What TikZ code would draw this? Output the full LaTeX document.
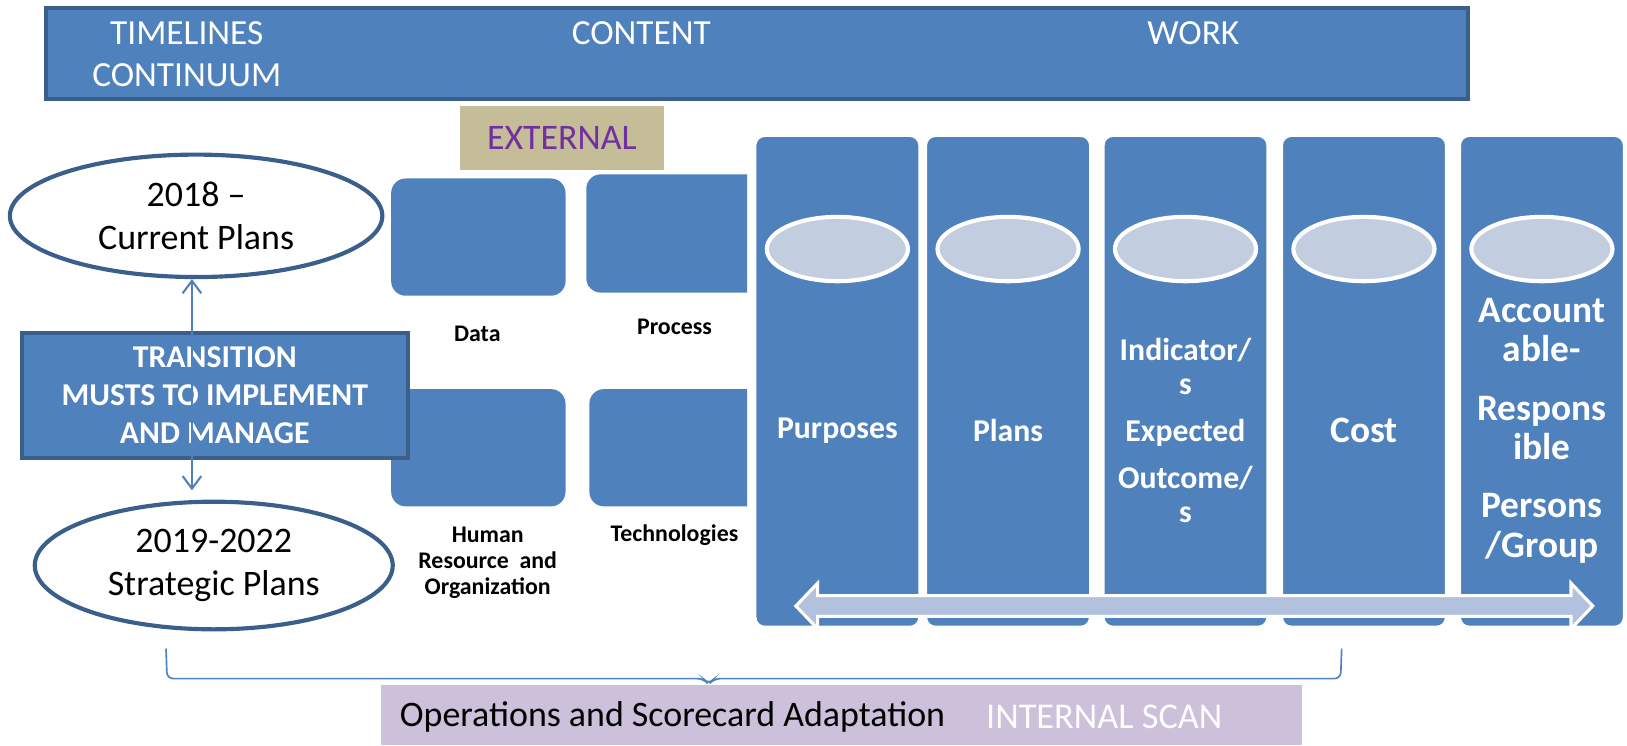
\documentclass[tikz,border=0pt]{standalone}
\usepackage{fontspec}
\setmainfont{Carlito}
\usetikzlibrary{arrows.meta,shapes.geometric,calc}

\definecolor{boxblue}{HTML}{4F81BD}
\definecolor{edgeblue}{HTML}{3A5F8B}
\definecolor{capfill}{HTML}{C3CDE0}
\definecolor{flowfill}{HTML}{B2C1DD}
\definecolor{tanfill}{HTML}{C4BD97}
\definecolor{scanfill}{HTML}{CCC0DA}
\definecolor{extpurple}{HTML}{7030A0}

\tikzset{
  bannerbox/.style={draw=edgeblue, line width=2pt, fill=boxblue, inner sep=0pt},
  bannertext/.style={text=white, font=\fontsize{17}{20.5}\selectfont, align=center, inner sep=0pt},
  planell/.style={ellipse, draw=edgeblue, line width=2pt, fill=white, align=center,
    font=\fontsize{17.3}{20.7}\selectfont, inner sep=0pt},
  musts/.style={draw=edgeblue, line width=2pt, fill=boxblue, text=white, align=center,
    font=\bfseries\fontsize{15.3}{18.3}\selectfont, inner sep=0pt},
  tile/.style={fill=boxblue, rounded corners=7pt, inner sep=0pt},
  tilelabel/.style={font=\bfseries\fontsize{11.5}{12.5}\selectfont, align=center, inner sep=0pt},
  column/.style={draw=white, line width=2pt, fill=boxblue, rounded corners=5pt,
    minimum width=80pt, minimum height=237.5pt, inner sep=0pt},
  coltext/.style={text=white, align=center, font=\bfseries\fontsize{15.3}{16.5}\selectfont, inner sep=0pt},
  bigtext/.style={coltext, font=\bfseries\fontsize{18}{19}\selectfont},
  colcap/.style={ellipse, draw=white, line width=2pt, fill=capfill,
    minimum width=68pt, minimum height=31pt, inner sep=0pt},
  flowarrow/.style={draw=white, line width=1.5pt, fill=flowfill, line join=miter},
  linkarrow/.style={draw=boxblue, line width=1pt, {Straight Barb[length=6pt,width=9pt]}-{Straight Barb[length=6pt,width=9pt]}},
  bracket/.style={draw=boxblue, line width=0.8pt, rounded corners=3pt}
}

\begin{document}
\begin{tikzpicture}[x=0.5pt,y=-0.5pt]
  \useasboundingbox (0,0) rectangle (1568,718);

  \node[bannerbox, minimum width=685.5pt, minimum height=43.5pt] (banner) at (729.5,51.5) {};
  \node[bannertext] (timeline) at (180,52) {TIMELINES\\CONTINUUM};
  \node[bannertext] (content) at (618,32) {CONTENT};
  \node[bannertext] (work) at (1150,32) {WORK};

  \node[fill=tanfill, text=extpurple, minimum width=98.5pt, minimum height=31pt,
    font=\fontsize{17.3}{20}\selectfont] (ext) at (541.5,133) {EXTERNAL};

  \node[tile, minimum width=84pt, minimum height=56.5pt] (data) at (461,228.5) {};
  \node[tile, minimum width=84pt, minimum height=56.5pt] (hr) at (461,431.5) {};
  \begin{scope}
    \clip (550,150) rectangle (720,500);
    \node[tile, minimum width=95pt, minimum height=57pt] (process) at (660,225) {};
    \node[tile, minimum width=95pt, minimum height=56.5pt] (tech) at (663,431.5) {};
  \end{scope}
  \node[tilelabel] (datalabel) at (460,322) {Data};
  \node[tilelabel] (processlabel) at (650,315) {Process};
  \node[tilelabel] (hrlabel) at (470,542) {Human\\Resource~ and\\Organization};
  \node[tilelabel] (techlabel) at (650,516) {Technologies};

  \node[column] (purposes) at (807,367.5) {};
  \node[column] (plans) at (971.5,367.5) {};
  \node[column] (indicator) at (1142.5,367.5) {};
  \node[column] (cost) at (1314.5,367.5) {};
  \node[column] (account) at (1486,367.5) {};
  \foreach \c in {purposes,plans,indicator,cost,account}
    \node[colcap] (\c cap) at (\c.center |- 0,240) {};

  \node[coltext] at (purposes.center |- 0,415) {Purposes};
  \node[coltext] at (plans.center |- 0,415) {Plans};
  \node[coltext] at (indicator.center |- 0,415) {Indicator/\\s\\[6pt]Expected\\[6pt]Outcome/\\s};
  \node[bigtext] at (cost.center |- 0,415) {Cost};
  \node[bigtext] at (account.center |- 0,415) {Account\\able-\\[9pt]Respons\\ible\\[9pt]Persons\\/Group};

  \coordinate (flowl) at (767,584);
  \coordinate (flowr) at (1535,584);
  \draw[flowarrow] (flowl) -- ++(21,-22) -- ++(0,12) -- ($(flowr)+(-21,-10)$) -- ++(0,-12)
    -- (flowr) -- ++(-21,22) -- ++(0,-12) -- ($(flowl)+(21,10)$) -- ++(0,12) -- cycle;

  \node[planell, minimum width=179.5pt, minimum height=59pt] (now) at (189,208) {2018 –\\Current Plans};
  \node[planell, minimum width=172.5pt, minimum height=61.5pt] (strat) at (206,545) {2019-2022\\Strategic Plans};

  \node[musts, minimum width=186pt, minimum height=60pt] (transition) at (207,381)
    {TRANSITION\\MUSTS TO IMPLEMENT\\AND MANAGE};
  \draw[linkarrow, shorten >=4.5pt] ([xshift=-2pt]now.south) -- ([xshift=-2pt]now.south |- strat.north);

  \node[fill=scanfill, minimum width=444pt, minimum height=29pt, inner sep=0pt] (ops) at (811,689) {};
  \node[anchor=west, font=\fontsize{17.3}{20}\selectfont, inner sep=0pt] (opstext) at (385,691)
    {Operations and Scorecard Adaptation};
  \node[anchor=west, text=white, font=\fontsize{17.5}{20}\selectfont, inner sep=0pt] (scan) at (950,691)
    {INTERNAL SCAN};

  \coordinate (bl) at (160,625);
  \coordinate (br) at (1293,625);
  \coordinate (tip) at (ops.north -| 683,0);
  \draw[bracket] (bl) -- (161,654) -- (678,654) -- (tip) -- (688,654) -- (1292,654) -- (br);
\end{tikzpicture}
\end{document}
